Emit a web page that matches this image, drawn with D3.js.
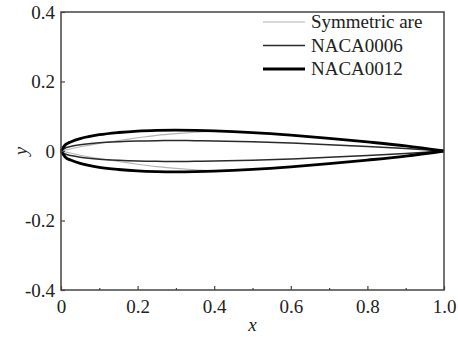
<!DOCTYPE html>
<html><head><meta charset="utf-8">
<script src="https://cdn.jsdelivr.net/npm/d3@7"></script>
<style>body{margin:0;background:#fff}
#c, #c text{font-family:"Times New Roman","Liberation Serif",serif}</style>
</head><body><svg id="c" width="458" height="337" font-family="Times New Roman"></svg>
<script>
const xs        = [0, 0.0125, 0.025, 0.05, 0.1, 0.15, 0.2, 0.25, 0.3, 0.35, 0.4, 0.5, 0.6, 0.7, 0.8, 0.9, 1.0];
const arcUpper  = [0, 0.003, 0.006, 0.012, 0.022, 0.030, 0.038, 0.045, 0.050, 0.054, 0.057, 0.0525, 0.0453, 0.0362, 0.0259, 0.0145, 0];
const naca0006  = [0, 0.0095, 0.0131, 0.0178, 0.0234, 0.0266, 0.0287, 0.0297, 0.0300, 0.0297, 0.0290, 0.0265, 0.0228, 0.0183, 0.0131, 0.0074, 0];
const naca0012  = [0, 0.0189, 0.0261, 0.0356, 0.0468, 0.0532, 0.0574, 0.0594, 0.0600, 0.0594, 0.0580, 0.0529, 0.0456, 0.0366, 0.0262, 0.0147, 0];
const seriesNames = ["Symmetric are", "NACA0006", "NACA0012"];
const xTicks = [0, 0.2, 0.4, 0.6, 0.8, 1.0];
const xTickLabels = ["0", "0.2", "0.4", "0.6", "0.8", "1.0"];
const xMinor = [0.1, 0.3, 0.5, 0.7, 0.9];
const yTicks = [-0.4, -0.2, 0, 0.2, 0.4];
const yTickLabels = ["-0.4", "-0.2", "0", "0.2", "0.4"];

const L = 61, R = 444, T = 12, B = 290;
const FS = 19;
const svg = d3.select("#c");
const x = d3.scaleLinear().domain([0, 1]).range([L, R]);
const y = d3.scaleLinear().domain([-0.4, 0.4]).range([B, T]);

const styles = [
  {color: "#b4b4b4", width: 1.1},
  {color: "#2a2a2a", width: 1.5},
  {color: "#000000", width: 2.8}
];
const dataSets = [arcUpper, naca0006, naca0012];

const line = d3.line().x(d => x(d[0])).y(d => y(d[1])).curve(d3.curveCatmullRom);
dataSets.forEach((ys, i) => {
  const upper = xs.map((v, k) => [v, ys[k]]);
  const lower = xs.map((v, k) => [v, -ys[k]]);
  [upper, lower].forEach(pts => {
    svg.append("path").attr("d", line(pts)).attr("fill", "none")
      .attr("stroke", styles[i].color).attr("stroke-width", styles[i].width)
      .attr("stroke-linejoin", "round");
  });
});

function serif(sel) {
  return sel.attr("font-family", "Times New Roman")
    .style("font-family", '"Times New Roman"')
    .attr("font-size", FS).attr("fill", "#222");
}

// axes
const xAxis = d3.axisBottom(x).tickValues(xTicks).tickSize(-4).tickPadding(10)
  .tickFormat((d, i) => xTickLabels[i]);
const gx = svg.append("g").attr("transform", `translate(0,${B})`).call(xAxis);
const gxm = svg.append("g").attr("transform", `translate(0,${B})`)
  .call(d3.axisBottom(x).tickValues(xMinor).tickSize(-2).tickFormat(""));
const yAxis = d3.axisLeft(y).tickValues(yTicks).tickSize(-4).tickPadding(6)
  .tickFormat((d, i) => yTickLabels[i]);
const gy = svg.append("g").attr("transform", `translate(${L},0)`).call(yAxis);
[gx, gxm, gy].forEach(g => {
  g.attr("font-family", "Times New Roman").attr("font-size", FS);
  g.select(".domain").remove();
  g.selectAll(".tick line").attr("stroke", "#444").attr("stroke-width", 1.2);
  serif(g.selectAll("text"));
});
gx.selectAll("text").attr("dy", "0.71em");

// frame
svg.append("rect").attr("x", L).attr("y", T).attr("width", R - L).attr("height", B - T)
  .attr("fill", "none").attr("stroke", "#444").attr("stroke-width", 1.5);

// axis titles
serif(svg.append("text")).attr("x", (L + R) / 2).attr("y", 331).attr("text-anchor", "middle")
  .attr("font-style", "italic").text("x");
serif(svg.append("text")).attr("transform", `translate(27,${y(0)}) rotate(-90)`).attr("text-anchor", "middle")
  .attr("font-style", "italic").text("y");

// legend
const lg = svg.append("g");
seriesNames.forEach((name, i) => {
  const yy = 22 + i * 23.5;
  lg.append("line").attr("x1", 263).attr("x2", 305).attr("y1", yy).attr("y2", yy)
    .attr("stroke", styles[i].color).attr("stroke-width", styles[i].width);
  serif(lg.append("text")).attr("x", 311).attr("y", yy).attr("dy", "0.33em").text(name);
});
</script></body></html>
